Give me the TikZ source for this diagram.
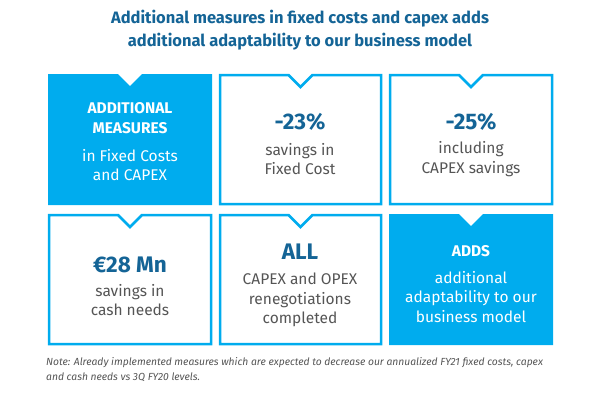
\documentclass[tikz,border=0pt]{standalone}
\usepackage{fontspec}
\setmainfont{Fira Sans}
\begin{document}
\definecolor{cyanb}{RGB}{0,172,238}
\definecolor{darkb}{RGB}{20,100,150}
\definecolor{greyt}{RGB}{85,85,85}
\tikzset{x=1pt,y=-1pt,
  txt/.style={align=center,font=\fontsize{15.5}{19.5}\selectfont,text=greyt},
  big/.style={align=center,font=\fontsize{22.5}{26}\selectfont\bfseries,text=darkb},
  wtxt/.style={align=center,font=\fontsize{15.5}{19.5}\selectfont,text=white},
  wbig/.style={align=center,font=\fontsize{15.5}{19.5}\selectfont\bfseries,text=white},
  obox/.style={draw=cyanb,line width=2.5pt,fill=white},
  fbox/.style={fill=cyanb}}
\newcommand{\nbox}[5]{% style, x1,y1,x2,y2
  \path[#1] (#2,#3) -- ({(#2+#4)/2-12},#3) -- ({(#2+#4)/2},#3+12) -- ({(#2+#4)/2+12},#3) -- (#4,#3) -- (#4,#5) -- (#2,#5) -- cycle;}
\begin{tikzpicture}
\useasboundingbox (0,0) rectangle (600,400);
\node[align=center,font=\fontsize{16.5}{23}\selectfont\bfseries,text=darkb] (title) at (300,30) {Additional measures in fixed costs and capex adds\\additional adaptability to our business model};
\nbox{fbox}{48}{74}{212}{205}
\nbox{obox}{220}{75}{381}{204}
\nbox{obox}{390}{75}{552}{204}
\nbox{obox}{49}{215}{211}{344}
\nbox{obox}{220}{215}{381}{344}
\nbox{fbox}{389}{214}{553}{345}
\node[wbig] (a1) at (130,118) {ADDITIONAL\\MEASURES};
\node[wtxt] (a2) at (130,165) {in Fixed Costs\\and CAPEX};
\node[big] (b1) at (300,122) {-23\%};
\node[txt] (b2) at (300,159) {savings in\\Fixed Cost};
\node[big] (c1) at (471,122) {-25\%};
\node[txt] (c2) at (471,159) {including\\CAPEX savings};
\node[big] (d1) at (130,265) {€28 Mn};
\node[txt] (d2) at (130,300) {savings in\\cash needs};
\node[big] (e1) at (300,252) {ALL};
\node[txt] (e2) at (300,300) {CAPEX and OPEX\\renegotiations\\completed};
\node[wbig] (f1) at (471,251) {ADDS};
\node[wtxt] (f2) at (471,297) {additional\\adaptability to our\\business model};
\node[anchor=north west,align=left,font=\fontsize{10.3}{15}\selectfont\itshape,text=greyt,inner sep=0] (note) at (46,357) {Note: Already implemented measures which are expected to decrease our annualized FY21 fixed costs, capex\\and cash needs vs 3Q FY20 levels.};
\end{tikzpicture}
\end{document}
